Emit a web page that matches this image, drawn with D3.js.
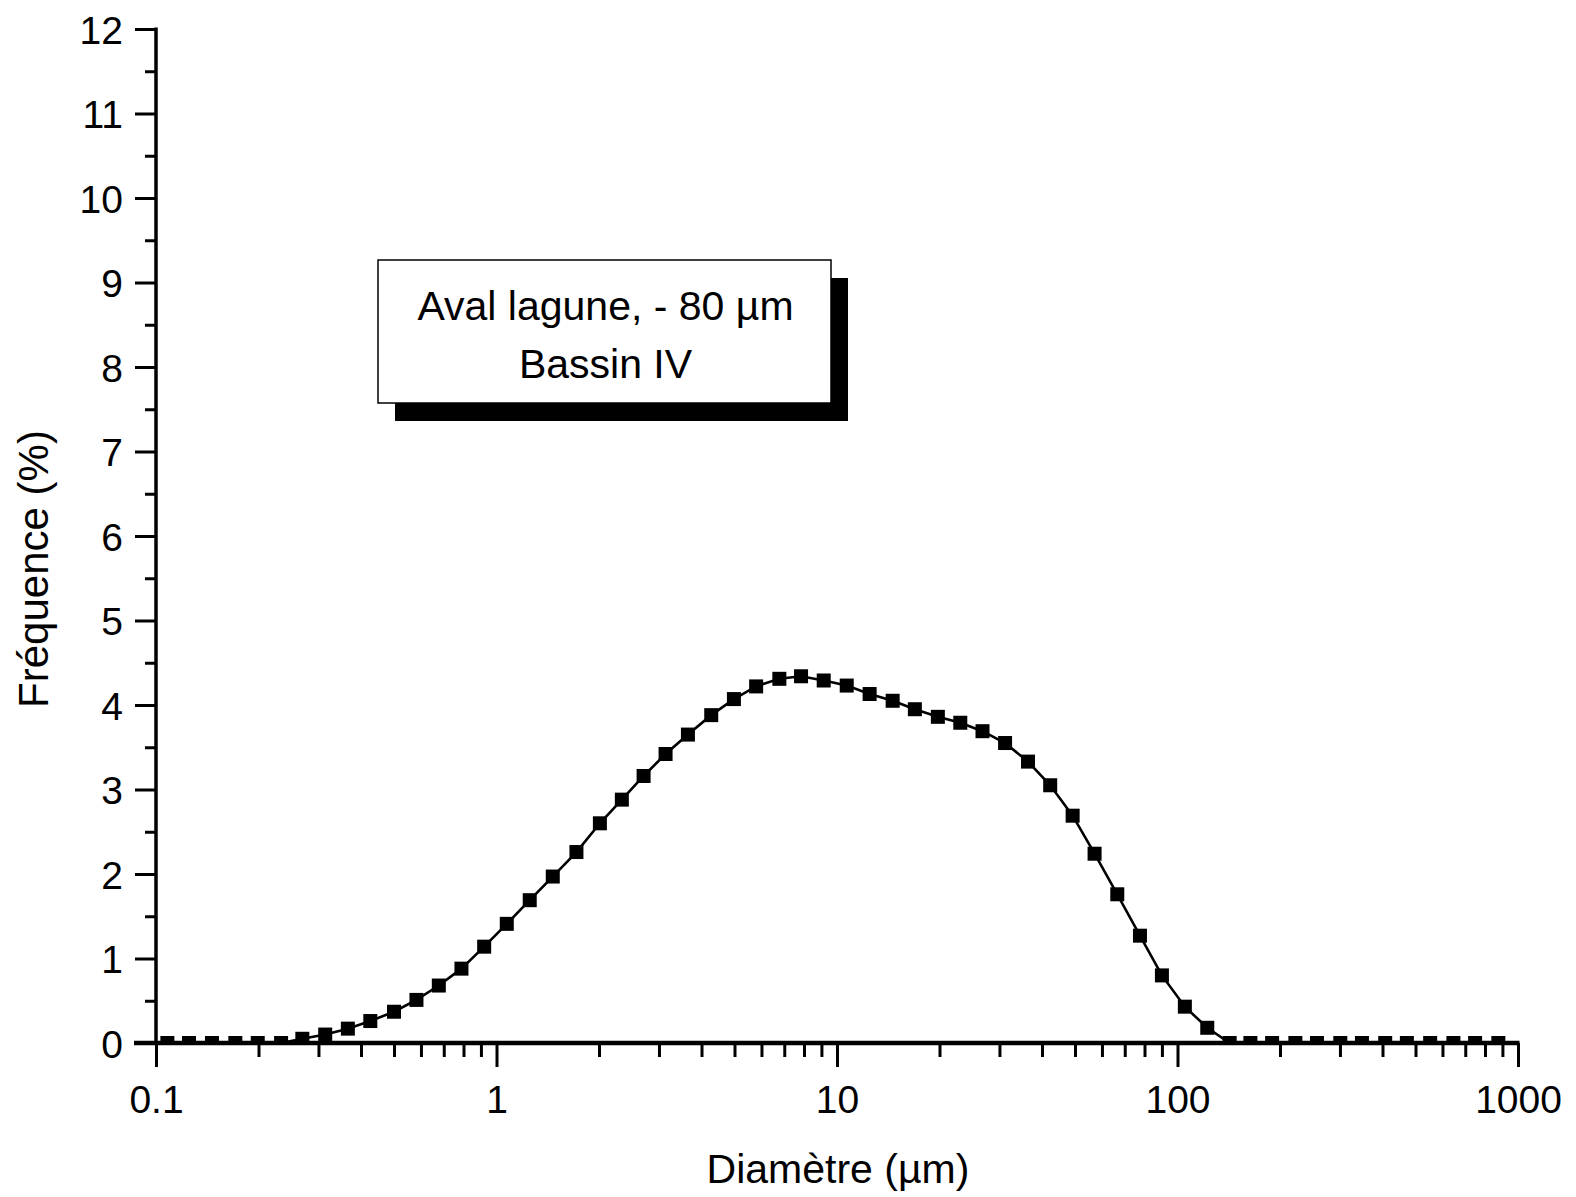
<!DOCTYPE html>
<html>
<head>
<meta charset="utf-8">
<script src="https://cdn.jsdelivr.net/npm/d3@7"></script>
<style>
  html, body { margin: 0; padding: 0; background: #fff; }
  svg { display: block; }
  text { font-family: "Liberation Sans", Arial, sans-serif; fill: #000; }
</style>
</head>
<body>
<svg id="chart" width="1576" height="1197"></svg>
<script>
// Particle size classes (µm)
const diameters = [
  0.108, 0.125, 0.146, 0.171, 0.199, 0.233, 0.269, 0.314, 0.366, 0.426,
  0.500, 0.582, 0.677, 0.789, 0.920, 1.072, 1.252, 1.463, 1.717, 2.012,
  2.334, 2.704, 3.137, 3.649, 4.272, 4.980, 5.788, 6.772, 7.842, 9.141,
  10.68, 12.47, 14.57, 16.93, 19.78, 23.02, 26.75, 31.16, 36.39, 42.28,
  49.21, 57.08, 66.55, 77.58, 90.00, 105.1, 122.3, 142.3, 163.7, 189.6,
  221.9, 256.8, 300.7, 348.1, 407.4, 471.7, 552.1, 646.1, 748.2, 875.5
];
// Frequency in each class (%)
const frequencies = [
  0, 0, 0, 0, 0, 0, 0.05, 0.10, 0.17, 0.26,
  0.37, 0.51, 0.68, 0.88, 1.14, 1.41, 1.69, 1.97, 2.26, 2.60,
  2.88, 3.16, 3.42, 3.65, 3.88, 4.07, 4.22, 4.31, 4.34, 4.29,
  4.23, 4.13, 4.05, 3.95, 3.86, 3.79, 3.69, 3.55, 3.33, 3.05,
  2.69, 2.24, 1.76, 1.27, 0.80, 0.43, 0.18, 0, 0, 0,
  0, 0, 0, 0, 0, 0, 0, 0, 0, 0
];
const xMajorTicks = [0.1, 1, 10, 100, 1000];
const xTickLabels = ["0.1", "1", "10", "100", "1000"];
const yMajorTicks = [0,1,2,3,4,5,6,7,8,9,10,11,12];
const yMinorTicks = [0.5,1.5,2.5,3.5,4.5,5.5,6.5,7.5,8.5,9.5,10.5,11.5];
const legendLines = ["Aval lagune, - 80 µm", "Bassin IV"];
const xTitle = "Diamètre (µm)";
const yTitle = "Fréquence (%)";

(function draw() {
  const svg = d3.select("#chart");
  const plotLeft = 156, plotRight = 1518, plotTop = 29, plotBottom = 1043;

  const x = d3.scaleLog().domain([0.1, 1000]).range([plotLeft, plotRight]);
  const y = d3.scaleLinear().domain([0, 12]).range([plotBottom, plotTop]);

  // minor log ticks 2..9 in each decade
  const xMinorTicks = [];
  for (let i = 0; i < xMajorTicks.length - 1; i++) {
    for (let k = 2; k <= 9; k++) xMinorTicks.push(xMajorTicks[i] * k);
  }

  const data = diameters.map((d, i) => ({ d, f: frequencies[i] }));

  // clip marks to the area above the x axis
  svg.append("defs").append("clipPath").attr("id", "plot-clip")
    .append("rect").attr("x", plotLeft).attr("y", 0)
    .attr("width", plotRight - plotLeft + 10).attr("height", plotBottom);

  const plot = svg.append("g").attr("clip-path", "url(#plot-clip)");

  plot.append("path")
    .datum(data)
    .attr("fill", "none")
    .attr("stroke", "#000")
    .attr("stroke-width", 2.6)
    .attr("d", d3.line().x(p => x(p.d)).y(p => y(p.f)));

  const ms = 14;
  plot.selectAll("rect.pt")
    .data(data)
    .join("rect")
    .attr("class", "pt")
    .attr("x", p => x(p.d) - ms / 2)
    .attr("y", p => y(p.f) - ms / 2)
    .attr("width", ms)
    .attr("height", ms)
    .attr("fill", "#000");

  // x axis
  const xAxisMinor = svg.append("g").attr("transform", `translate(0,${plotBottom})`)
    .call(d3.axisBottom(x).tickValues(xMinorTicks).tickSize(14).tickFormat(""));
  const xAxisMajor = svg.append("g").attr("transform", `translate(0,${plotBottom})`)
    .call(d3.axisBottom(x).tickValues(xMajorTicks).tickSize(24)
      .tickFormat((d, i) => xTickLabels[i]));
  [xAxisMinor, xAxisMajor].forEach(g => {
    g.select(".domain").remove();
    g.selectAll(".tick line").attr("stroke", "#000").attr("stroke-width", 3);
  });
  xAxisMajor.selectAll(".tick text")
    .attr("y", 70).attr("dy", 0)
    .style("font-size", "39px");

  svg.append("line")
    .attr("x1", plotLeft - 22).attr("x2", plotRight + 1.5)
    .attr("y1", plotBottom).attr("y2", plotBottom)
    .attr("stroke", "#000").attr("stroke-width", 4.5);

  // y axis
  const yAxisMinor = svg.append("g").attr("transform", `translate(${plotLeft},0)`)
    .call(d3.axisLeft(y).tickValues(yMinorTicks).tickSize(11).tickFormat(""));
  const yAxisMajor = svg.append("g").attr("transform", `translate(${plotLeft},0)`)
    .call(d3.axisLeft(y).tickValues(yMajorTicks).tickSize(21).tickFormat(d3.format("d")));
  [yAxisMinor, yAxisMajor].forEach(g => {
    g.select(".domain").remove();
    g.selectAll(".tick line").attr("stroke", "#000").attr("stroke-width", 3);
  });
  yAxisMajor.selectAll(".tick text")
    .attr("x", -33).attr("dy", "0.36em")
    .style("font-size", "39px");

  svg.append("line")
    .attr("x1", plotLeft).attr("x2", plotLeft)
    .attr("y1", plotTop - 1.5).attr("y2", plotBottom)
    .attr("stroke", "#000").attr("stroke-width", 3.5);

  // axis titles
  svg.append("text")
    .attr("x", 838).attr("y", 1183)
    .attr("text-anchor", "middle")
    .style("font-size", "41px")
    .text(xTitle);

  svg.append("text")
    .attr("transform", "translate(48,569) rotate(-90)")
    .attr("text-anchor", "middle")
    .style("font-size", "42px")
    .text(yTitle);

  // annotation box with drop shadow
  const box = { x: 378, y: 260, w: 453, h: 143, dx: 17, dy: 18 };
  svg.append("rect")
    .attr("x", box.x + box.dx).attr("y", box.y + box.dy)
    .attr("width", box.w).attr("height", box.h)
    .attr("fill", "#000");
  svg.append("rect")
    .attr("x", box.x).attr("y", box.y)
    .attr("width", box.w).attr("height", box.h)
    .attr("fill", "#fff").attr("stroke", "#000").attr("stroke-width", 1.5);
  svg.append("g").selectAll("text")
    .data(legendLines)
    .join("text")
    .attr("x", box.x + box.w / 2 + 1)
    .attr("y", (d, i) => 320 + i * 58)
    .attr("text-anchor", "middle")
    .style("font-size", "41px")
    .text(d => d);
})();
</script>
</body>
</html>
